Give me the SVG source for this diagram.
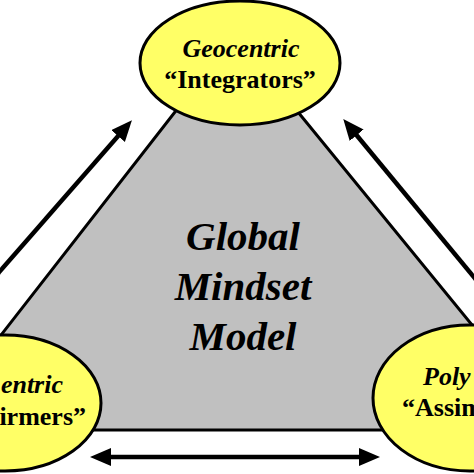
<svg xmlns="http://www.w3.org/2000/svg" width="474" height="474" viewBox="0 0 474 474">
<defs>
<style>
.node{fill:#FFFF66;stroke:#000;stroke-width:3}
.t{font-family:"Liberation Serif","Times New Roman",serif;font-weight:bold;font-size:26px;fill:#000}
.i{font-style:italic}
.c{font-family:"Liberation Serif","Times New Roman",serif;font-weight:bold;font-style:italic;font-size:41px;fill:#000}
.arr{stroke:#000;stroke-width:4.5;fill:none}
</style>
<marker id="ah" markerUnits="userSpaceOnUse" markerWidth="22" markerHeight="20" refX="12" refY="9" orient="auto-start-reverse">
<path d="M0,0 L21,9 L0,18 Z" fill="#000"/>
</marker>
</defs>
<rect width="474" height="474" fill="#fff"/>
<g id="model">
<polygon points="235,35 558,430 -73,430" fill="#C0C0C0" stroke="#000" stroke-width="3"/>
<text class="c" x="243" y="250" text-anchor="middle">Global</text>
<text class="c" x="243" y="300" text-anchor="middle">Mindset</text>
<text class="c" x="243" y="350" text-anchor="middle">Model</text>
</g>
<g id="connectors">
<line class="arr" x1="-6" y1="278" x2="126" y2="127" marker-end="url(#ah)"/>
<line class="arr" x1="482" y1="287" x2="349" y2="126" marker-end="url(#ah)"/>
<line class="arr" x1="99" y1="457" x2="371" y2="457" marker-start="url(#ah)" marker-end="url(#ah)"/>
</g>
<g id="geocentric">
<ellipse class="node" cx="240" cy="63" rx="100" ry="62"/>
<text class="t i" x="241" y="57" text-anchor="middle">Geocentric</text>
<text class="t" x="240" y="88" text-anchor="middle">“Integrators”</text>
</g>
<g id="ethnocentric">
<ellipse class="node" cx="5" cy="403" rx="96" ry="68"/>
<text class="t i" x="63" y="393" text-anchor="end">entric</text>
<text class="t" x="86" y="425" text-anchor="end">irmers”</text>
</g>
<g id="polycentric">
<ellipse class="node" cx="470" cy="398" rx="97" ry="73"/>
<text class="t i" x="423" y="385">Poly</text>
<text class="t" x="402" y="416">“Assim</text>
</g>
</svg>
